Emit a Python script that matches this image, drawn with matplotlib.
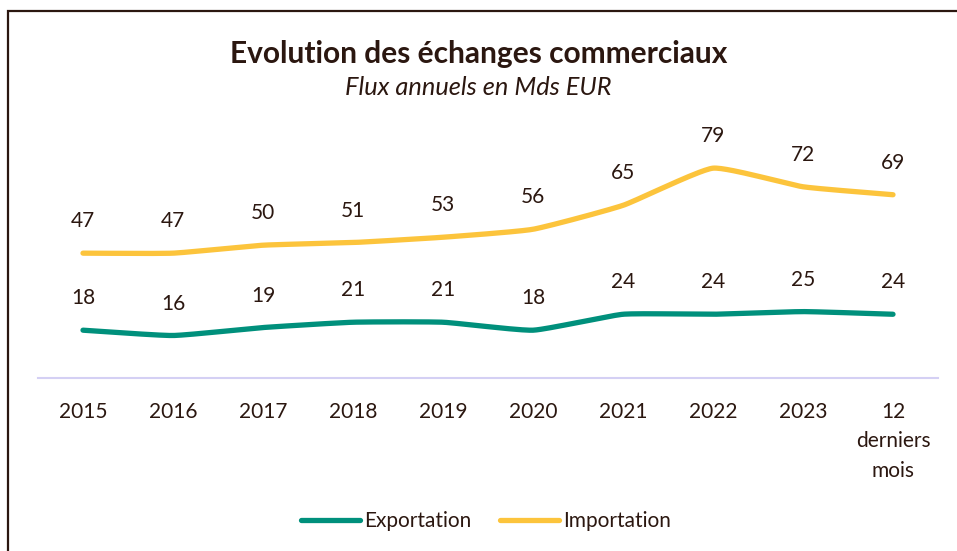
import numpy as np
import matplotlib.pyplot as plt
from matplotlib.patches import Rectangle

categories = ['2015', '2016', '2017', '2018', '2019', '2020', '2021', '2022', '2023', '12\nderniers\nmois']
exportation = [18, 16, 19, 21, 21, 18, 24, 24, 25, 24]
importation = [47, 47, 50, 51, 53, 56, 65, 79, 72, 69]

TXT = '#2b1710'
TEAL = '#00907c'
GOLD = '#fcc43c'

plt.rcParams['font.family'] = ['Lato', 'DejaVu Sans']


def smooth(x, y, k=0.45, n=30):
    # hermite curve with damped tangents -> mild rounding like excel
    x = np.asarray(x, float)
    y = np.asarray(y, float)
    px = np.concatenate([[2 * x[0] - x[1]], x, [2 * x[-1] - x[-2]]])
    py = np.concatenate([[2 * y[0] - y[1]], y, [2 * y[-1] - y[-2]]])
    t = np.linspace(0, 1, n)
    h00 = 2 * t ** 3 - 3 * t ** 2 + 1
    h10 = t ** 3 - 2 * t ** 2 + t
    h01 = -2 * t ** 3 + 3 * t ** 2
    h11 = t ** 3 - t ** 2
    xs, ys = [], []
    for i in range(1, len(px) - 2):
        for arr, out in ((px, xs), (py, ys)):
            p0, p1, p2, p3 = arr[i - 1:i + 3]
            m1 = k * (p2 - p0) / 2
            m2 = k * (p3 - p1) / 2
            out.extend(h00 * p1 + h10 * m1 + h01 * p2 + h11 * m2)
    return np.array(xs), np.array(ys)


fig = plt.figure(figsize=(9.57, 5.51), dpi=100)
ax = fig.add_axes([38 / 957, 1 - 378 / 551, 900 / 957, 265.6 / 551])

x = np.arange(len(categories))
for vals, col, name in ((exportation, TEAL, 'Exportation'), (importation, GOLD, 'Importation')):
    sx, sy = smooth(x, vals)
    ax.plot(sx, sy, color=col, lw=3.8, solid_capstyle='round', label=name)
    for xi, v in zip(x, vals):
        ax.annotate(str(v), (xi, v), xytext=(0, 23), textcoords='offset points',
                    ha='center', va='center', fontsize=15, color=TXT)

ax.set_xlim(-0.5, len(categories) - 0.5)
ax.set_ylim(0, 100)
for s in ['top', 'right', 'left']:
    ax.spines[s].set_visible(False)
ax.spines['bottom'].set_color('#d4d0f4')
ax.spines['bottom'].set_linewidth(1.5)
ax.set_yticks([])
ax.set_xticks(x)
ax.set_xticklabels(categories, fontsize=15, color=TXT, linespacing=1.6)
ax.tick_params(axis='x', length=0, pad=17)

fig.text(0.5, 1 - 54 / 551, 'Evolution des échanges commerciaux', ha='center', va='center',
         fontsize=21.5, fontweight='bold', color=TXT)
fig.text(0.5, 1 - 88 / 551, 'Flux annuels en Mds EUR', ha='center', va='center',
         fontsize=18.3, style='italic', color=TXT)

fig.legend(loc='center', bbox_to_anchor=(486 / 957, 1 - 521 / 551), ncol=2, frameon=False,
           fontsize=15, handlelength=2.8, columnspacing=1.4, handletextpad=0.2,
           labelcolor=TXT)

fig.patches.append(Rectangle((8 / 957, -0.1), 1.2, 1.1 - 11 / 551, transform=fig.transFigure,
                             fill=False, edgecolor=TXT, lw=1.6))

fig.savefig('out.png', dpi=100)
